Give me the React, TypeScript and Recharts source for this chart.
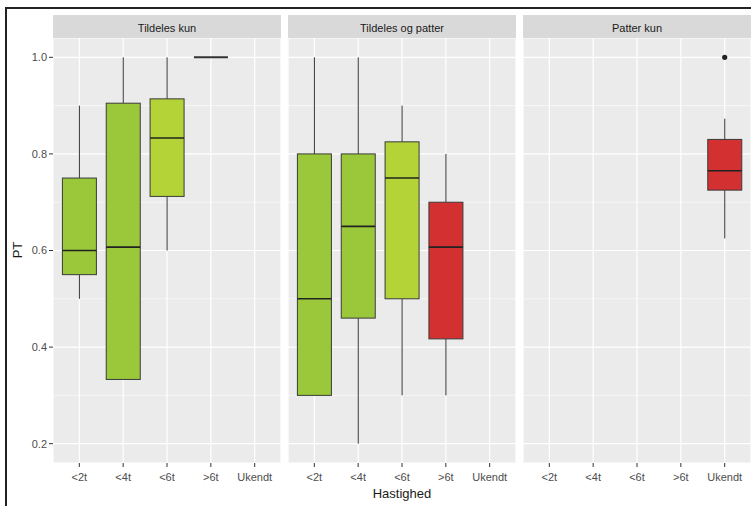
import {
  Bar,
  CartesianGrid,
  ComposedChart,
  Scatter,
  XAxis,
  YAxis,
} from "recharts";

// Speed groups on the x axis of every facet
const SPEEDS = ["<2t", "<4t", "<6t", ">6t", "Ukendt"];
const SPEED_COLORS = ["#9AC83A", "#9AC83A", "#B3D337", "#D33131", "#D33131"];

// Five-number summaries per facet (null = no observations)
const TILDELES_KUN = [
  { min: 0.5, q1: 0.55, median: 0.6, q3: 0.75, max: 0.9 },
  { min: 0.333, q1: 0.333, median: 0.607, q3: 0.905, max: 1.0 },
  { min: 0.6, q1: 0.712, median: 0.833, q3: 0.914, max: 1.0 },
  { min: 1.0, q1: 1.0, median: 1.0, q3: 1.0, max: 1.0 },
  null,
];
const TILDELES_OG_PATTER = [
  { min: 0.3, q1: 0.3, median: 0.5, q3: 0.8, max: 1.0 },
  { min: 0.2, q1: 0.46, median: 0.65, q3: 0.8, max: 1.0 },
  { min: 0.3, q1: 0.5, median: 0.75, q3: 0.825, max: 0.9 },
  { min: 0.3, q1: 0.417, median: 0.607, q3: 0.7, max: 0.8 },
  null,
];
const PATTER_KUN = [
  null,
  null,
  null,
  null,
  { min: 0.625, q1: 0.725, median: 0.765, q3: 0.83, max: 0.873 },
];
const PATTER_KUN_OUTLIERS = [null, null, null, null, 1.0];

const FACETS = [
  { title: "Tildeles kun", stats: TILDELES_KUN, outliers: [null, null, null, null, null] },
  { title: "Tildeles og patter", stats: TILDELES_OG_PATTER, outliers: [null, null, null, null, null] },
  { title: "Patter kun", stats: PATTER_KUN, outliers: PATTER_KUN_OUTLIERS },
];

const Y_TICKS = [0.2, 0.4, 0.6, 0.8, 1.0];
const Y_MINOR = [0.3, 0.5, 0.7, 0.9];
const Y_DOMAIN = [0.16, 1.04];

const FONT = "'Liberation Sans', Arial, sans-serif";
const TICK = { fontSize: 11, fill: "#4D4D4D", fontFamily: FONT };

const PANEL_W = 228;
const PANEL_H = 425;
const PANEL_TOP = 38;
const PANEL_LEFTS = [53, 288, 523];
const Y_AXIS_W = 47;
const X_AXIS_H = 28;

// Range bar spans min..max; the box, median and whiskers are placed inside it
function BoxShape(props: any) {
  const { x, y, width, height, payload } = props;
  if (!payload || payload.min == null) return null;
  const top = Math.min(y, y + height);
  const bottom = Math.max(y, y + height);
  const cx = x + width / 2;
  const span = payload.max - payload.min;
  if (span <= 0) {
    return <line x1={x} x2={x + width} y1={top} y2={top} stroke="#333" strokeWidth={2} />;
  }
  const py = (v: number) => top + ((payload.max - v) / span) * (bottom - top);
  return (
    <g>
      <line x1={cx} x2={cx} y1={py(payload.max)} y2={py(payload.q3)} stroke="#333" strokeWidth={1} />
      <line x1={cx} x2={cx} y1={py(payload.q1)} y2={py(payload.min)} stroke="#333" strokeWidth={1} />
      <rect
        x={x}
        y={py(payload.q3)}
        width={width}
        height={py(payload.q1) - py(payload.q3)}
        fill={payload.color}
        stroke="#3a3a3a"
        strokeWidth={1}
      />
      <line x1={x} x2={x + width} y1={py(payload.median)} y2={py(payload.median)} stroke="#222" strokeWidth={1.6} />
    </g>
  );
}

function OutlierDot(props: any) {
  const { cx, cy } = props;
  if (cx == null || cy == null) return null;
  return <circle cx={cx} cy={cy} r={2.6} fill="#222" />;
}

function Facet({ index }: { index: number }) {
  const facet = FACETS[index];
  const data = SPEEDS.map((s, i) => {
    const st = facet.stats[i];
    return {
      speed: s,
      color: SPEED_COLORS[i],
      ...(st || {}),
      range: st ? [st.min, st.max] : null,
      outlier: facet.outliers[i],
    };
  });
  const showY = index === 0;
  const width = PANEL_W + (showY ? Y_AXIS_W : 0);
  return (
    <div
      style={{
        position: "absolute",
        left: PANEL_LEFTS[index] - (showY ? Y_AXIS_W : 0),
        top: PANEL_TOP,
      }}
    >
      <ComposedChart
        width={width}
        height={PANEL_H + X_AXIS_H}
        data={data}
        margin={{ top: 0, right: 0, bottom: 0, left: 0 }}
        barSize={34}
      >
        <CartesianGrid fill="#EBEBEB" fillOpacity={1} stroke="#FFFFFF" strokeWidth={1.2} />
        <CartesianGrid
          vertical={false}
          horizontalValues={Y_MINOR}
          stroke="#FFFFFF"
          strokeWidth={0.6}
        />
        <XAxis
          dataKey="speed"
          type="category"
          interval={0}
          height={X_AXIS_H}
          padding={{ left: 4.4, right: 4.4 }}
          axisLine={false}
          tickLine={{ stroke: "#333" }}
          tickSize={4}
          tickMargin={6}
          tick={TICK}
        />
        <YAxis
          hide={!showY}
          width={Y_AXIS_W}
          type="number"
          domain={Y_DOMAIN}
          ticks={Y_TICKS}
          allowDataOverflow
          tickFormatter={(v: number) => v.toFixed(1)}
          axisLine={false}
          tickLine={{ stroke: "#333" }}
          tickSize={4}
          tick={TICK}
        />
        <Bar dataKey="range" shape={<BoxShape />} isAnimationActive={false} />
        <Scatter dataKey="outlier" shape={<OutlierDot />} isAnimationActive={false} />
      </ComposedChart>
    </div>
  );
}

export default function App() {
  return (
    <div
      style={{
        position: "absolute",
        left: 0,
        top: 0,
        width: 751,
        height: 506,
        background: "#FFFFFF",
        overflow: "hidden",
        fontFamily: FONT,
      }}
    >
      <div
        style={{
          position: "absolute",
          left: 5,
          top: 7,
          width: 760,
          height: 520,
          borderTop: "2px solid #222",
          borderLeft: "2px solid #222",
        }}
      />
      {FACETS.map((f, i) => (
        <div
          key={f.title}
          style={{
            position: "absolute",
            left: PANEL_LEFTS[i],
            top: 15,
            width: PANEL_W,
            height: 23,
            background: "#D9D9D9",
            color: "#1A1A1A",
            fontSize: 11,
            lineHeight: "23px",
            paddingTop: 2,
            boxSizing: "border-box",
            textAlign: "center",
          }}
        >
          {f.title}
        </div>
      ))}
      {FACETS.map((f, i) => (
        <Facet key={f.title} index={i} />
      ))}
      <div
        style={{
          position: "absolute",
          left: 17,
          top: 250,
          transform: "translate(-50%, -50%) rotate(-90deg)",
          fontSize: 13,
          color: "#1A1A1A",
        }}
      >
        PT
      </div>
      <div
        style={{
          position: "absolute",
          left: 402,
          top: 493,
          transform: "translate(-50%, -50%)",
          fontSize: 13,
          color: "#1A1A1A",
        }}
      >
        Hastighed
      </div>
    </div>
  );
}
